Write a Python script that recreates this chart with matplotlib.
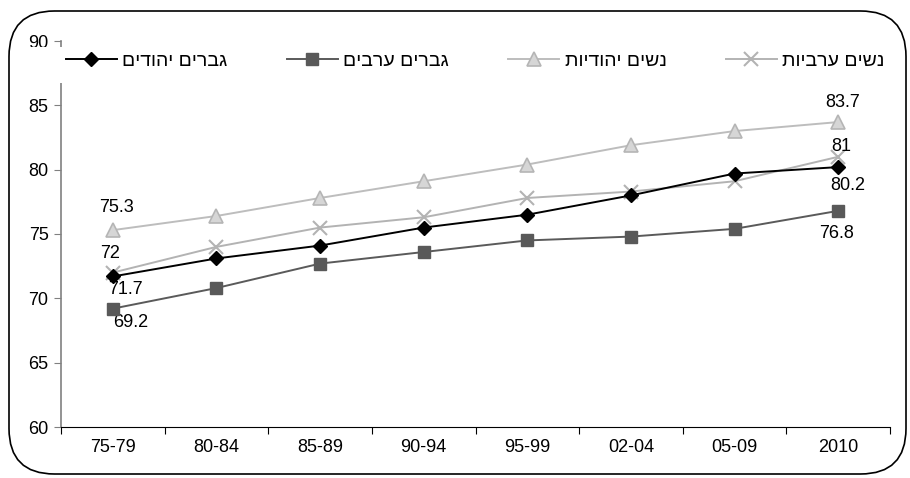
import matplotlib
matplotlib.use('Agg')
import matplotlib.pyplot as plt
from matplotlib.patches import FancyBboxPatch, Rectangle

plt.rcParams['font.family'] = ['Liberation Sans', 'DejaVu Sans']

# periods on the x axis
periods = ['75-79', '80-84', '85-89', '90-94', '95-99', '02-04', '05-09', '2010']

# life expectancy by group
jewish_men = [71.7, 73.1, 74.1, 75.5, 76.5, 78.0, 79.7, 80.2]
arab_men = [69.2, 70.8, 72.7, 73.6, 74.5, 74.8, 75.4, 76.8]
jewish_women = [75.3, 76.4, 77.8, 79.1, 80.4, 81.9, 83.0, 83.7]
arab_women = [72.0, 74.0, 75.5, 76.3, 77.8, 78.3, 79.1, 81.0]

labels = ['גברים יהודים', 'גברים ערבים', 'נשים יהודיות', 'נשים ערביות']


def rtl(s):
    # matplotlib has no bidi support, so flip the hebrew text
    return s[::-1]


fig = plt.figure(figsize=(9.1, 4.78), dpi=100)
ax = fig.add_axes([61 / 910, 1 - 427 / 478, 829 / 910, 386 / 478])

x = list(range(len(periods)))

ax.plot(x, jewish_men, color='black', lw=1.4, marker='D', ms=7,
        mfc='black', mec='black', label=rtl(labels[0]), zorder=5)
ax.plot(x, arab_men, color='#5a5a5a', lw=1.4, marker='s', ms=9,
        mfc='#595959', mec='#595959', label=rtl(labels[1]), zorder=4)
ax.plot(x, jewish_women, color='#bdbdbd', lw=1.4, marker='^', ms=10,
        mfc='#d6d6d6', mec='#b5b5b5', mew=1.2, label=rtl(labels[2]), zorder=3)
ax.plot(x, arab_women, color='#b3b3b3', lw=1.4, marker='x', ms=10,
        mew=1.5, label=rtl(labels[3]), zorder=3)

# value labels at first and last points
fs = 13
first, last = 0, len(periods) - 1


def value_label(series, i, dx, dy):
    ax.annotate(f'{series[i]:g}', (i, series[i]), xytext=(dx, dy),
                textcoords='offset points', ha='center', va='center',
                fontsize=fs)


value_label(jewish_women, first, 3, 16.5)
value_label(arab_women, first, -2, 14)
value_label(jewish_men, first, 9, -9.5)
value_label(arab_men, first, 13, -10)
value_label(jewish_women, last, 3.5, 14)
value_label(arab_women, last, 2, 7.5)
value_label(jewish_men, last, 7, -13.4)
value_label(arab_men, last, -1.5, -16.5)

ax.set_xlim(-0.5, len(periods) - 0.5)
ax.set_ylim(60, 90)
ax.set_yticks(range(60, 91, 5))
ax.set_xticks([i + 0.5 for i in range(-1, len(periods))])
ax.set_xticklabels([])
ax.set_xticks(x, minor=True)
ax.set_xticklabels(periods, minor=True)
ax.tick_params(axis='x', which='major', direction='out', length=5,
               color='black')
ax.tick_params(axis='x', which='minor', length=0, pad=9, labelsize=fs)
ax.tick_params(axis='y', direction='out', length=5, color='#808080',
               labelsize=fs, pad=4)

for side in ['top', 'right']:
    ax.spines[side].set_visible(False)
ax.spines['left'].set_color('#808080')
ax.spines['left'].set_linewidth(1.2)
ax.spines['bottom'].set_color('black')

# white band behind the legend (hides the top of the axis)
fig.patches.append(Rectangle((30 / 910, 1 - 83 / 478), 870 / 910, 36.5 / 478,
                             transform=fig.transFigure, facecolor='white',
                             edgecolor='none', zorder=3))

leg = fig.legend(loc='center left', bbox_to_anchor=(66 / 910, 1 - 61 / 478),
                 ncol=4, frameon=False, fontsize=14, handlelength=2.6,
                 handletextpad=0.3, columnspacing=3.05, borderaxespad=0,
                 borderpad=0)
leg.set_zorder(6)

# rounded outer frame
fig.patches.append(FancyBboxPatch((9 / 910, 4 / 478), 897 / 910, 463 / 478,
                                  boxstyle='round,pad=0,rounding_size=0.05',
                                  transform=fig.transFigure, facecolor='none',
                                  edgecolor='black', lw=1.2, zorder=7,
                                  mutation_aspect=910 / 478))

fig.savefig('out.png', dpi=100)
